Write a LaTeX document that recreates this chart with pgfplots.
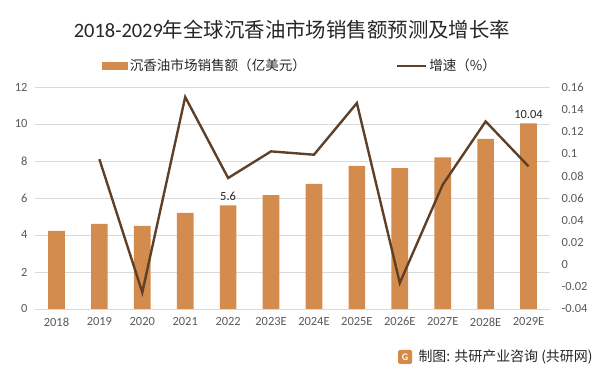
\documentclass[border=0pt]{standalone}
\usepackage{fontspec}
\setmainfont{Carlito}
\newfontfamily\cjk{Noto Sans CJK SC}
\usepackage{pgfplots}
\pgfplotsset{compat=1.18}
\definecolor{barc}{RGB}{211,139,78}
\definecolor{linec}{RGB}{94,64,41}
\definecolor{gridc}{RGB}{217,217,217}
\definecolor{tickc}{RGB}{89,89,89}
\definecolor{txtc}{RGB}{38,38,38}
\pgfplotstableread{
x val
0 4.22
1 4.60
2 4.49
3 5.19
4 5.60
5 6.16
6 6.76
7 7.73
8 7.62
9 8.20
10 9.19
11 10.04
}\sales
\pgfplotstableread{
x g
1 0.095
2 -0.025
3 0.151
4 0.078
5 0.102
6 0.099
7 0.1455
8 -0.0165
9 0.072
10 0.129
11 0.0885
}\growth
\begin{document}
\begin{tikzpicture}
\path[use as bounding box] (0bp,0bp) rectangle (600bp,374bp);
\pgfplotsset{
  base/.style={
    at={(35bp,65bp)}, anchor=south west,
    width=515bp, height=222bp, scale only axis,
    xmin=-0.5, xmax=11.5,
    xtick={0,...,11},
    major tick length=0pt,
    tick label style={font=\fontsize{12.5}{14}\selectfont, text=tickc},
    /pgf/number format/assume math mode=true,
  }
}
\begin{axis}[base,
  ymin=0, ymax=12, ytick={0,2,4,6,8,10,12},
  axis x line*=bottom, axis y line*=left,
  x axis line style={draw=gridc, thick},
  y axis line style={draw=none},
  ymajorgrids, grid style={draw=gridc, line width=0.8pt},
  xticklabels={2018,2019,2020,2021,2022,2023E,2024E,2025E,2026E,2027E,2028E,2029E},
  xticklabel style={yshift=-5bp},
  yticklabel style={xshift=-4bp},
]
\addplot[ybar, bar width=0.39, fill=barc, draw=none] table[x=x, y=val] {\sales};
\addplot[draw=none, mark=none, point meta=explicit symbolic,
  nodes near coords, nodes near coords style={font=\fontsize{12.5}{14}\selectfont, text=txtc, anchor=south, yshift=1bp}]
  coordinates {(4,5.6) [5.6] (11,10.04) [10.04]};
\end{axis}
\begin{axis}[base,
  ymin=-0.04, ymax=0.16, ytick={-0.04,-0.02,0,0.02,0.04,0.06,0.08,0.1,0.12,0.14,0.16},
  yticklabels={-0.04,-0.02,0,0.02,0.04,0.06,0.08,0.1,0.12,0.14,0.16},
  axis y line*=right, axis x line=none,
  y axis line style={draw=none},
  yticklabel style={anchor=west, xshift=8bp},
  legend style={at={(0.515,1.095)}, anchor=center, draw=none, fill=none,
    legend columns=2, font=\cjk\fontsize{13.6}{15}\selectfont, text=txtc,
    /tikz/every even column/.append style={column sep=88bp}},
  legend cell align=left,
]
\addlegendimage{legend image code/.code={\fill[barc] (0bp,-3.5bp) rectangle (25bp,3.5bp);}}
\addlegendentry{沉香油市场销售额（亿美元）}
\addplot[linec, line width=2.4pt, mark=none, line join=miter,
  legend image code/.code={\draw[linec, line width=2.4pt] (0bp,0bp) -- (29bp,0bp);}]
  table[x=x, y=g] {\growth};
\addlegendentry{增速（\%）}
\end{axis}
\node[text=txtc, font=\fontsize{20.5}{24}\selectfont] at (292bp,344bp) {2018-2029{\cjk 年全球沉香油市场销售额预测及增长率}};
\fill[barc!90!orange, rounded corners=1.5bp] (398bp,10bp) rectangle (412bp,24bp);
\node[text=white, font=\bfseries\fontsize{10}{10}\selectfont] at (405bp,17bp) {G};
\node[anchor=west, text=txtc, font=\cjk\fontsize{14}{16}\selectfont] at (415bp,17bp) {制图: 共研产业咨询 (共研网)};
\end{tikzpicture}
\end{document}
